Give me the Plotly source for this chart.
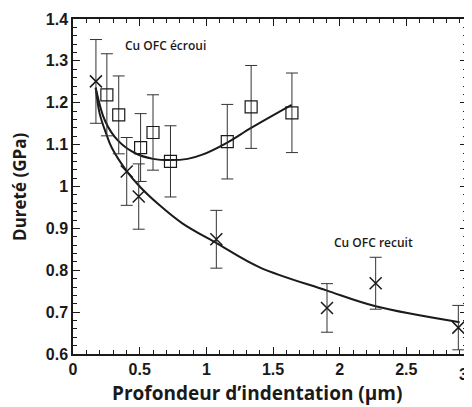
import plotly.graph_objects as go

# ---- data ----
ecroui_x = [0.254, 0.343, 0.507, 0.600, 0.731, 1.157, 1.336, 1.642]
ecroui_y = [1.219, 1.171, 1.093, 1.129, 1.060, 1.107, 1.190, 1.176]
ecroui_err = [0.098, 0.093, 0.081, 0.090, 0.085, 0.089, 0.099, 0.095]

recuit_x = [0.172, 0.403, 0.493, 1.075, 1.905, 2.270, 2.890]
recuit_y = [1.251, 1.036, 0.976, 0.874, 0.710, 0.769, 0.663]
recuit_err = [0.100, 0.081, 0.078, 0.069, 0.058, 0.062, 0.053]

fit_ecroui_x = [0.17, 0.24, 0.336, 0.463, 0.60, 0.73, 0.86, 0.97, 1.157, 1.336, 1.64]
fit_ecroui_y = [1.236, 1.157, 1.110, 1.080, 1.066, 1.063, 1.066, 1.076, 1.105, 1.140, 1.195]

fit_recuit_x = [0.17, 0.20, 0.25, 0.29, 0.40, 0.50, 0.65, 0.82, 1.08, 1.40, 1.90, 2.27, 2.90]
fit_recuit_y = [1.236, 1.174, 1.125, 1.093, 1.038, 1.000, 0.955, 0.912, 0.864, 0.807, 0.752, 0.714, 0.676]

x_ticks = [0, 0.5, 1, 1.5, 2, 2.5]
x_ticklabels = ["0", "0.5", "1", "1.5", "2", "2.5"]
y_ticks = [0.6, 0.7, 0.8, 0.9, 1.0, 1.1, 1.2, 1.3, 1.4]
y_ticklabels = ["0.6", "0.7", "0.8", "0.9", "1", "1.1", "1.2", "1.3", "1.4"]

ink = "#1a1a1a"

fig = go.Figure()

fig.add_trace(go.Scatter(x=fit_recuit_x, y=fit_recuit_y, mode="lines",
                         line=dict(color=ink, width=2, shape="spline", smoothing=1.0),
                         hoverinfo="skip", showlegend=False))
fig.add_trace(go.Scatter(x=fit_ecroui_x, y=fit_ecroui_y, mode="lines",
                         line=dict(color=ink, width=2, shape="spline", smoothing=1.0),
                         hoverinfo="skip", showlegend=False))

fig.add_trace(go.Scatter(
    x=ecroui_x, y=ecroui_y, mode="markers",
    marker=dict(symbol="square-open", size=12, color=ink, line=dict(width=1.2, color=ink)),
    error_y=dict(type="data", array=ecroui_err, visible=True, color="#333", thickness=1, width=6),
    showlegend=False))

fig.add_trace(go.Scatter(
    x=recuit_x, y=recuit_y, mode="markers",
    marker=dict(symbol="x-thin-open", size=12, color=ink, line=dict(width=1.5, color=ink)),
    error_y=dict(type="data", array=recuit_err, visible=True, color="#333", thickness=1, width=6),
    showlegend=False))

fig.add_annotation(x=0.694, y=1.336, text="Cu OFC écroui", showarrow=False,
                   font=dict(family="Open Sans", size=12, color=ink, weight=600))
fig.add_annotation(x=2.254, y=0.867, text="Cu OFC recuit", showarrow=False,
                   font=dict(family="Open Sans", size=12, color=ink, weight=600))

tickfont = dict(family="Liberation Sans", size=16, color=ink, weight="bold")

# "3" tick label at the right edge (partly cut in the reference)
fig.add_annotation(xref="paper", yref="paper", x=1.0075, xanchor="right",
                   y=0, yshift=-20, yanchor="middle",
                   text="3", showarrow=False, font=tickfont)

# axis titles
fig.add_annotation(xref="paper", yref="paper", x=0.467, y=-0.116, yanchor="middle",
                   text="Profondeur d’indentation (µm)", showarrow=False,
                   font=dict(family="Open Sans", size=19, color=ink, weight="bold"))
fig.add_annotation(xref="paper", yref="paper", x=-0.136, y=0.5, xanchor="center",
                   textangle=-90, text="Dureté (GPa)", showarrow=False,
                   font=dict(family="Open Sans", size=17, color=ink, weight="bold"))

fig.update_xaxes(range=[0, 2.955], tickvals=x_ticks, ticktext=x_ticklabels,
                 ticks="inside", ticklen=7, tickwidth=1, tickcolor=ink,
                 minor=dict(dtick=0.1, ticks="inside", ticklen=4, tickcolor=ink),
                 showline=True, linecolor=ink, linewidth=1.5, mirror="ticks",
                 showgrid=False, zeroline=False, tickfont=tickfont)
fig.update_yaxes(range=[0.6, 1.4], tickvals=y_ticks, ticktext=y_ticklabels,
                 ticks="inside", ticklen=7, tickwidth=1, tickcolor=ink,
                 minor=dict(dtick=0.02, ticks="inside", ticklen=4, tickcolor=ink),
                 showline=True, linecolor=ink, linewidth=1.5, mirror="ticks",
                 showgrid=False, zeroline=False, tickfont=tickfont)

# the page body has an 8px margin, so the figure is shrunk by 8px on each axis
fig.update_layout(width=464, height=399,
                  margin=dict(l=65, r=3, t=10, b=53),
                  paper_bgcolor="white", plot_bgcolor="white")

fig.write_html("out.html")
